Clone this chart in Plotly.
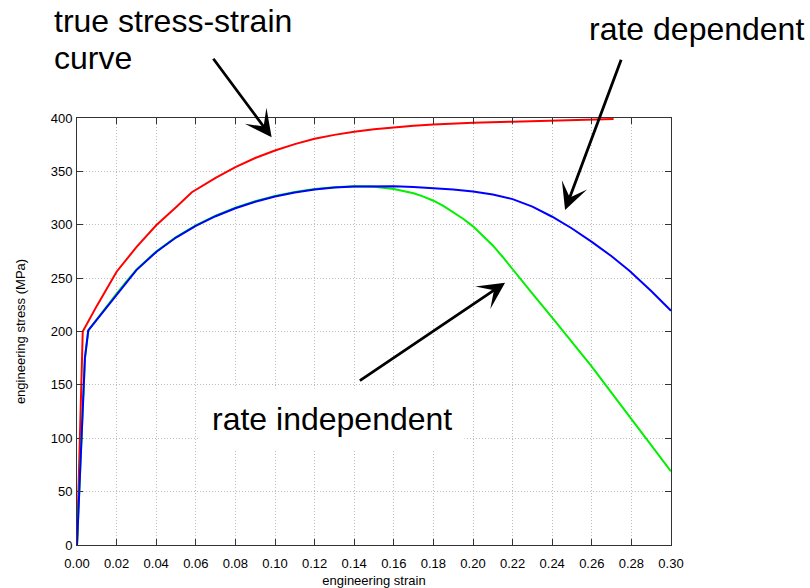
import plotly.graph_objects as go

# True stress-strain curve
true_strain = [0, 0.0029, 0.01, 0.02, 0.03, 0.04, 0.05, 0.058, 0.07, 0.08, 0.09, 0.10,
               0.11, 0.12, 0.13, 0.14, 0.15, 0.16, 0.17, 0.18, 0.19, 0.20, 0.22, 0.24,
               0.26, 0.271]
true_stress = [0, 200, 224, 256, 279, 299.5, 316.5, 330.5, 344, 354, 362.5, 369.5,
               375.5, 380.5, 384.2, 387.2, 389.5, 391.3, 392.7, 393.9, 394.8, 395.5, 396.6, 397.5,
               398.4, 399]

# Rate dependent engineering curve
dep_strain = [0, 0.004, 0.0057, 0.01, 0.015, 0.02, 0.025, 0.03, 0.04, 0.05, 0.06, 0.07,
              0.08, 0.09, 0.10, 0.11, 0.12, 0.13, 0.14, 0.15, 0.16, 0.17, 0.18, 0.19,
              0.20, 0.21, 0.22, 0.23, 0.24, 0.25, 0.26, 0.27, 0.279, 0.29, 0.30]
dep_stress = [0, 175, 201, 211, 223.5, 235, 246.5, 257.5, 274.5, 288, 299, 308,
              315.5, 321.5, 326.5, 330.3, 333, 334.8, 335.8, 336.2, 336, 335.3, 334.3, 333,
              331.2, 328.3, 324, 317, 307.5, 296.5, 284, 270.5, 257, 238, 219.5]

# Rate independent engineering curve
ind_strain = [0, 0.004, 0.0057, 0.01, 0.015, 0.02, 0.025, 0.03, 0.04, 0.05, 0.06, 0.07,
              0.08, 0.09, 0.10, 0.11, 0.12, 0.13, 0.14, 0.15, 0.16, 0.17, 0.175, 0.18,
              0.185, 0.19, 0.195, 0.20, 0.205, 0.21, 0.215, 0.22, 0.23, 0.24, 0.25, 0.26,
              0.27, 0.28, 0.29, 0.30]
ind_stress = [0, 175, 201, 211.5, 224, 235.5, 247, 258, 275, 288.5, 299.5, 308.5,
              316, 322, 327, 330.8, 333.5, 335.2, 336, 335.5, 333.5, 329.5, 326.3, 322.5,
              317.6, 312, 305.6, 298.5, 290, 280.6, 269.8, 258, 235.5, 213, 190, 167,
              142.5, 118, 93.5, 69]

x_ticks = [0.00, 0.02, 0.04, 0.06, 0.08, 0.10, 0.12, 0.14, 0.16, 0.18, 0.20,
           0.22, 0.24, 0.26, 0.28, 0.30]
y_ticks = [0, 50, 100, 150, 200, 250, 300, 350, 400]

FONT = "Liberation Sans, Arial, Helvetica, sans-serif"

fig = go.Figure()
fig.add_trace(go.Scatter(x=true_strain, y=true_stress, mode="lines",
                         line=dict(color="#ff0000", width=2), showlegend=False))
fig.add_trace(go.Scatter(x=ind_strain, y=ind_stress, mode="lines",
                         line=dict(color="#00f000", width=2), showlegend=False))
fig.add_trace(go.Scatter(x=dep_strain, y=dep_stress, mode="lines",
                         line=dict(color="#0000ff", width=2), showlegend=False))

axis_common = dict(
    ticks="inside", ticklen=6, tickwidth=1, tickcolor="#333333",
    showline=True, linecolor="#333333", linewidth=1, mirror="allticks",
    showgrid=True, gridcolor="#bdbdbd", griddash="1px,2px", gridwidth=1,
    zeroline=False, tickfont=dict(family=FONT, size=13, color="black"),
)

fig.update_xaxes(range=[0, 0.30], tickvals=x_ticks, tickformat=".2f", ticklabelstandoff=6,
                 title=dict(text="engineering strain", font=dict(family=FONT, size=13, color="black"),
                            standoff=6),
                 **axis_common)
fig.update_yaxes(range=[0, 400], tickvals=y_ticks, ticklabelstandoff=1,
                 title=dict(text="engineering stress (MPa)", font=dict(family=FONT, size=13, color="black"),
                            standoff=22),
                 **axis_common)

# Arrows pointing at the curves (tail -> tip in data units)
arrows = [
    (0.0683, 456.9, 0.0983, 381.9),
    (0.2751, 455.9, 0.2465, 313.8),
    (0.1421, 153.0, 0.2162, 245.7),
]
for ax_, ay_, x_, y_ in arrows:
    fig.add_annotation(x=x_, y=y_, ax=ax_, ay=ay_, xref="x", yref="y", axref="x", ayref="y",
                       text="", showarrow=True, arrowhead=3, arrowsize=1.6, arrowwidth=2.8,
                       arrowcolor="black", standoff=0, startstandoff=0)

big = dict(family=FONT, size=32, color="black")
fig.add_annotation(text="true stress-strain", xref="paper", yref="paper",
                   x=(53 - 77) / 594, y=(545 - 21) / 427, xanchor="left", yanchor="middle",
                   showarrow=False, font=big, borderpad=0)
fig.add_annotation(text="curve", xref="paper", yref="paper",
                   x=(53 - 77) / 594, y=(545 - 58) / 427, xanchor="left", yanchor="middle",
                   showarrow=False, font=big, borderpad=0)
fig.add_annotation(text="rate dependent", xref="paper", yref="paper",
                   x=(588 - 77) / 594, y=(545 - 29) / 427, xanchor="left", yanchor="middle",
                   showarrow=False, font=big, borderpad=0)
fig.add_annotation(text="rate independent", xref="paper", yref="paper",
                   x=(332 - 77) / 594, y=(545 - 419) / 427, xanchor="center", yanchor="middle",
                   showarrow=False, font=big, bgcolor="white", borderpad=12)

fig.update_layout(
    width=810, height=588,
    margin=dict(l=77, r=139, t=118, b=43, autoexpand=False),
    paper_bgcolor="white", plot_bgcolor="white",
    font=dict(family=FONT, color="black"),
)

fig.write_html("out.html")
